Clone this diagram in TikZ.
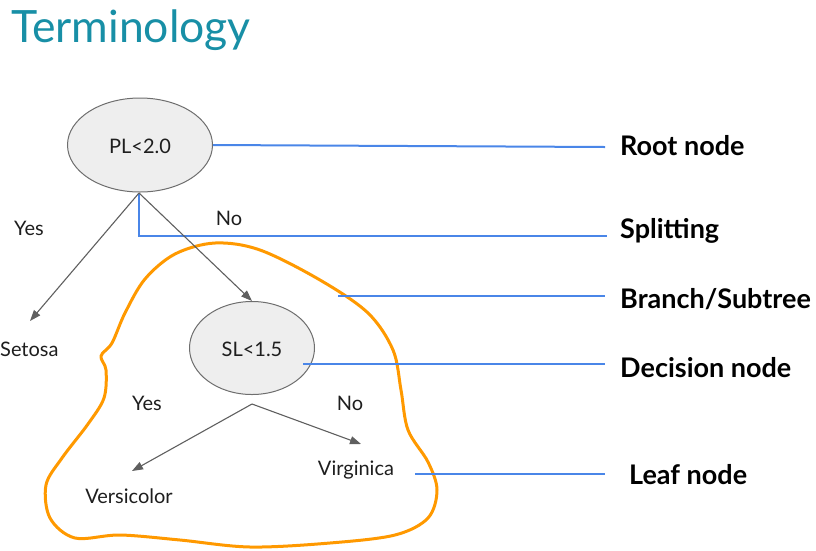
\documentclass[tikz,border=0pt]{standalone}
\usepackage{fontspec}
\setmainfont{Lato}
\usetikzlibrary{arrows.meta,shapes.geometric}
\definecolor{teal1}{RGB}{24,143,166}
\definecolor{blue1}{RGB}{74,134,232}
\definecolor{orange1}{RGB}{255,153,0}
\definecolor{ellfill}{RGB}{238,238,238}
\definecolor{ellline}{RGB}{110,110,110}
\definecolor{arrgray}{RGB}{95,95,95}
\definecolor{txt}{RGB}{30,30,30}
\begin{document}
\begin{tikzpicture}[x=1pt,y=-1pt,
  ell/.style={ellipse,draw=ellline,fill=ellfill,line width=1pt,inner sep=0pt},
  small/.style={font=\fontsize{20}{24}\selectfont,text=txt,inner sep=0pt,anchor=base},
  lbl/.style={font=\fontsize{27}{30}\selectfont\bfseries,text=black,inner sep=0pt,anchor=base west},
  arr/.style={draw=arrgray,line width=1.1pt,-{Triangle[length=11pt,width=8pt]}},
  bl/.style={draw=blue1,line width=2pt},
]
\useasboundingbox (0,0) rectangle (816,550);
% title
\node[font=\fontsize{44.5}{48}\selectfont,text=teal1,inner sep=0pt,anchor=base west] (title) at (11,42) {Terminology};
% ellipses
\node[ell,minimum width=145pt,minimum height=94pt] (root) at (140,145) {};
\node[small] (roottxt) at (140,153) {PL<2.0};
\node[ell,minimum width=125pt,minimum height=93pt] (sl) at (252,348) {};
\node[small] (sltxt) at (252,356) {SL<1.5};
% texts
\node[small] (yes1) at (29,235) {Yes};
\node[small] (no1) at (229,225) {No};
\node[small,anchor=base west] (setosa) at (0,356) {Setosa};
\node[small] (yes2) at (147,410) {Yes};
\node[small] (no2) at (350,410) {No};
\node[small] (virg) at (356,475) {Virginica};
\node[small] (vers) at (129,503) {Versicolor};
% right labels
\node[lbl] (lroot) at (620,155) {Root node};
\node[lbl] (lsplit) at (620,238) {Splitting};
\node[lbl] (lbranch) at (620,308) {Branch/Subtree};
\node[lbl] (ldec) at (620,377) {Decision node};
\node[lbl] (lleaf) at (629,484) {Leaf node};
% coordinates
\coordinate (rb) at (139,193);
\coordinate (setosatip) at (30,321);
\coordinate (sp2) at (252,404);
\coordinate (verstip) at (132,471);
\coordinate (virgtip) at (361,444);
\coordinate (eroot) at (605,147);
\coordinate (esplit) at (607,236);
\coordinate (bstart) at (338,296);
\coordinate (ebranch) at (605,296);
\coordinate (dstart) at (303,364);
\coordinate (edec) at (605,364);
\coordinate (lstart) at (415,474);
\coordinate (eleaf) at (605,474);
% orange blob
\draw[orange1,line width=3pt,line join=round] plot[smooth cycle,tension=0.55] coordinates {
 (101,356) (112,343) (125,313) (145,279) (175,254) (215,243) (260,250) (320,280)
 (368,313) (393,350) (401,390) (408,430) (428,462) (437,490) (428,518) (395,535)
 (330,543) (250,547) (180,540) (120,535) (75,538) (50,518) (46,485) (62,458)
 (88,424) (104,398) (106,370)};
% blue lines
\draw[bl] (root.east) -- (eroot);
\draw[bl] (rb) |- (esplit);
\draw[bl] (bstart) -- (ebranch);
\draw[bl] (dstart) -- (edec);
\draw[bl] (lstart) -- (eleaf);
% arrows
\draw[arr] (rb) -- (setosatip);
\draw[arr] (rb) -- (sl.north);
\draw[arr] (sp2) -- (verstip);
\draw[arr] (sp2) -- (virgtip);
\end{tikzpicture}
\end{document}
